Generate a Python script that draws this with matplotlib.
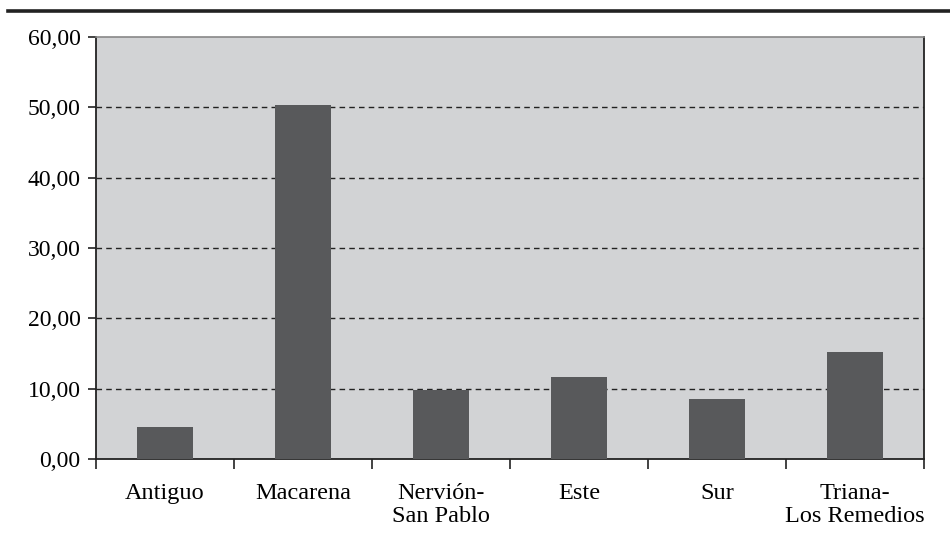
# Bar chart by district, Seville
import matplotlib
matplotlib.use('Agg')
import matplotlib.pyplot as plt
from matplotlib.lines import Line2D
from matplotlib.ticker import FuncFormatter, FixedLocator
import numpy

districts=['Antiguo','Macarena','Nervión-\nSan Pablo','Este','Sur',
           'Triana-\nLos Remedios']
values=[4.55,50.3,9.8,11.7,8.5,15.2]
y_ticks=[0,10,20,30,40,50,60]

plt.rcParams['font.family']=['Liberation Serif','DejaVu Serif']
plt.rcParams['font.size']=17.5

fig=plt.figure(figsize=(9.5,5.38),dpi=100,facecolor='white')
# rule across the top of the page
fig.add_artist(Line2D([0.008,1.0],[0.9796,0.9796],
                      transform=fig.transFigure,color='#222222',
                      linewidth=2.6))

ax=fig.add_axes([0.101,0.1468,0.8716,0.7844])
ax.set_facecolor('#d2d3d5')
x=numpy.arange(len(districts))
ax.bar(x,values,width=0.4,color='#58595b',zorder=3)

ax.set_xlim(-0.5,len(districts)-0.5)
ax.set_ylim(0,60)
ax.set_yticks(y_ticks)
ax.yaxis.set_major_formatter(FuncFormatter(
    lambda v,p: ('%.2f' % v).replace('.',',')))
for v in y_ticks[1:-1]:
    ax.axhline(v,color='#222222',linestyle=(0,(4,3)),linewidth=1.0,zorder=2)

# tick marks between categories, labels centred on bars
ax.xaxis.set_major_locator(FixedLocator(numpy.arange(-0.5,len(districts),1.0)))
ax.xaxis.set_major_formatter(FuncFormatter(lambda v,p: ''))
ax.xaxis.set_minor_locator(FixedLocator(x))
ax.set_xticklabels(districts,minor=True,linespacing=1.15)
ax.tick_params(axis='x',which='minor',length=0,pad=17)
ax.tick_params(axis='x',which='major',length=7,width=1.2,color='#222222')
ax.tick_params(axis='y',length=6,width=1.2,color='#222222',pad=5,
               labelsize=17)

for side in ['left','bottom','right']:
    ax.spines[side].set_color('#222222')
    ax.spines[side].set_linewidth(1.3)
ax.spines['top'].set_color('#888888')
ax.spines['top'].set_linewidth(1.2)

fig.savefig('out.png',dpi=100)
